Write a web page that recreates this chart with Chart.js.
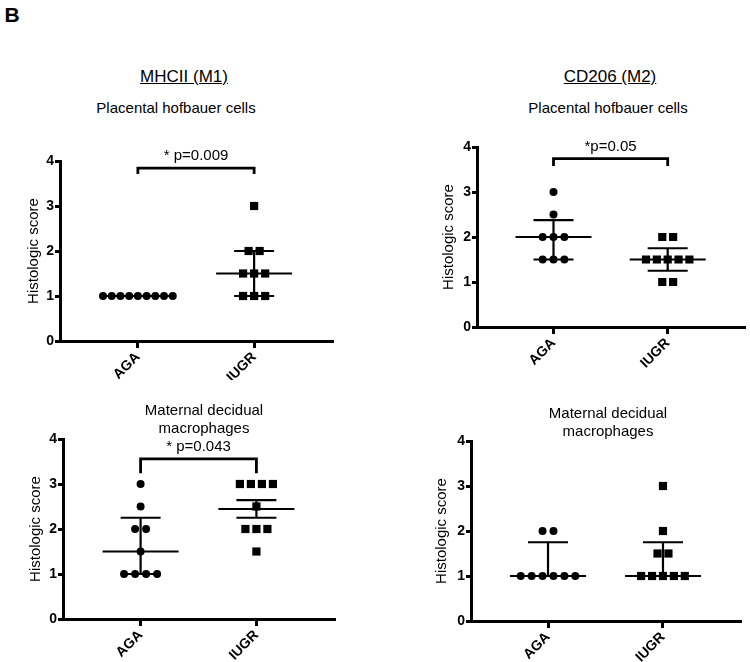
<!DOCTYPE html>
<html><head><meta charset="utf-8">
<script src="https://cdn.jsdelivr.net/npm/chart.js@4.4.1/dist/chart.umd.min.js"></script>
<style>
body{margin:0;background:#fff;width:750px;height:662px;position:relative;overflow:hidden;font-family:"Liberation Sans",Arial,sans-serif;color:#000}
.t{position:absolute;transform:translate(-50%,-50%);white-space:nowrap;text-align:center}
.h{font-size:17px;line-height:20px;text-decoration:underline}
.s{font-size:15px;line-height:18px}
canvas{position:absolute}
</style></head><body>
<canvas id="c1"></canvas><canvas id="c2"></canvas><canvas id="c3"></canvas><canvas id="c4"></canvas>
<div class="t" style="left:12px;top:15px;font-weight:bold;font-size:21px">B</div>
<div class="t h" style="left:184px;top:77px">MHCII (M1)</div>
<div class="t h" style="left:610px;top:77px">CD206 (M2)</div>
<div class="t s" style="left:176px;top:108px">Placental hofbauer cells</div>
<div class="t s" style="left:608px;top:108px">Placental hofbauer cells</div>
<div class="t s" style="left:204px;top:419px">Maternal decidual<br>macrophages</div>
<div class="t s" style="left:608px;top:422px">Maternal decidual<br>macrophages</div>
<script>
// ---- data ----
const groups = ['AGA', 'IUGR'];
const yTicks = [0, 1, 2, 3, 4];
const yTitle = 'Histologic score';

// MHCII (M1) – placental hofbauer cells
const mhcHofAGA  = [1, 1, 1, 1, 1, 1, 1, 1, 1];
const mhcHofIUGR = [3, 2, 2, 1.5, 1.5, 1.5, 1, 1, 1];
const mhcHofCenter = [1, 1.5];
const mhcHofLow    = [1, 1];
const mhcHofHigh   = [1, 2];

// CD206 (M2) – placental hofbauer cells
const cdHofAGA  = [3, 2.5, 2, 2, 2, 1.5, 1.5, 1.5];
const cdHofIUGR = [2, 2, 1.5, 1.5, 1.5, 1.5, 1.5, 1, 1];
const cdHofCenter = [2, 1.5];
const cdHofLow    = [1.5, 1.25];
const cdHofHigh   = [2.375, 1.75];

// MHCII (M1) – maternal decidual macrophages
const mhcDecAGA  = [3, 2.5, 2, 2, 1.5, 1, 1, 1, 1];
const mhcDecIUGR = [3, 3, 3, 3, 2.5, 2, 2, 2, 1.5];
const mhcDecCenter = [1.5, 2.444];
const mhcDecLow    = [1, 2.25];
const mhcDecHigh   = [2.25, 2.64];

// CD206 (M2) – maternal decidual macrophages
const cdDecAGA  = [2, 2, 1, 1, 1, 1, 1, 1];
const cdDecIUGR = [3, 2, 1.5, 1.5, 1, 1, 1, 1, 1];
const cdDecCenter = [1, 1];
const cdDecLow    = [1, 1];
const cdDecHigh   = [1.75, 1.75];

const pLabels = ['* p=0.009', '*p=0.05', '* p=0.043', null];

// ---- layout ----
const FAMILY = '"Liberation Sans", Arial, sans-serif';
const panels = [
  {id:'c1', box:{x:0,y:130,w:360,h:250}, area:{left:60,top:161,right:332,bottom:341}, titleX:34,
   vals:[mhcHofAGA, mhcHofIUGR], c:mhcHofCenter, lo:mhcHofLow, hi:mhcHofHigh, p:pLabels[0], br:{y:3.84, d:3.71}},
  {id:'c2', box:{x:400,y:120,w:350,h:250}, area:{left:477,top:147,right:748,bottom:327}, titleX:449,
   vals:[cdHofAGA, cdHofIUGR], c:cdHofCenter, lo:cdHofLow, hi:cdHofHigh, p:pLabels[1], br:{y:3.74, d:3.58}},
  {id:'c3', box:{x:0,y:410,w:360,h:252}, area:{left:63,top:439,right:334,bottom:619}, titleX:36,
   vals:[mhcDecAGA, mhcDecIUGR], c:mhcDecCenter, lo:mhcDecLow, hi:mhcDecHigh, p:pLabels[2], br:{y:3.56, d:3.24}},
  {id:'c4', box:{x:400,y:410,w:350,h:252}, area:{left:471,top:441,right:740,bottom:621}, titleX:442,
   vals:[cdDecAGA, cdDecIUGR], c:cdDecCenter, lo:cdDecLow, hi:cdDecHigh, p:pLabels[3], br:null}
];

// spread equal values side by side (scatter-dot layout)
function swarm(values, gi) {
  const counts = {}, seen = {};
  values.forEach(v => counts[v] = (counts[v] || 0) + 1);
  return values.map(v => {
    const n = counts[v], k = (seen[v] = (seen[v] || 0) + 1) - 1;
    const step = n > 1 ? Math.min(0.095, 0.6 / (n - 1)) : 0;
    return {x: gi + 1 + (k - (n - 1) / 2) * step, y: v};
  });
}

const summaryPlugin = {
  id: 'summary',
  afterDatasetsDraw(chart) {
    const cfg = chart.options.plugins.summary;
    const {ctx, scales:{x, y}} = chart;
    ctx.save();
    ctx.strokeStyle = '#000';
    ctx.lineWidth = 2.2;
    groups.forEach((g, i) => {
      const px = x.getPixelForValue(i + 1);
      const pc = y.getPixelForValue(cfg.c[i]);
      const pl = y.getPixelForValue(cfg.lo[i]);
      const ph = y.getPixelForValue(cfg.hi[i]);
      ctx.beginPath();
      ctx.moveTo(px - 38, pc); ctx.lineTo(px + 38, pc);
      ctx.moveTo(px, pl); ctx.lineTo(px, ph);
      ctx.moveTo(px - 20, pl); ctx.lineTo(px + 20, pl);
      ctx.moveTo(px - 20, ph); ctx.lineTo(px + 20, ph);
      ctx.stroke();
    });
    if (cfg.br) {
      const x1 = x.getPixelForValue(1), x2 = x.getPixelForValue(2);
      const yb = y.getPixelForValue(cfg.br.y), yd = y.getPixelForValue(cfg.br.d);
      ctx.lineWidth = 2.8;
      ctx.beginPath();
      ctx.moveTo(x1, yd); ctx.lineTo(x1, yb); ctx.lineTo(x2, yb); ctx.lineTo(x2, yd);
      ctx.stroke();
      ctx.fillStyle = '#000';
      ctx.font = '15px ' + FAMILY;
      ctx.textAlign = 'center';
      ctx.textBaseline = 'middle';
      ctx.fillText(cfg.p, (x1 + x2) / 2, yb - 12);
    }
    ctx.restore();
  }
};

panels.forEach(P => {
  const el = document.getElementById(P.id);
  el.width = P.box.w; el.height = P.box.h;
  el.style.left = P.box.x + 'px'; el.style.top = P.box.y + 'px';
  const padLeft = Math.max(0, P.titleX - P.box.x - 9 - 2);
  const yWidth = P.area.left - P.box.x - padLeft;
  const padTop = P.area.top - P.box.y;
  const padRight = P.box.x + P.box.w - P.area.right;
  const xHeight = P.box.y + P.box.h - P.area.bottom;
  new Chart(el, {
    type: 'scatter',
    data: {
      datasets: [
        {label: groups[0], data: swarm(P.vals[0], 0), pointStyle: 'circle', pointRadius: 4, pointHoverRadius: 4,
         backgroundColor: '#000', borderWidth: 0},
        {label: groups[1], data: swarm(P.vals[1], 1), pointStyle: 'rect', pointRadius: 5.8, pointHoverRadius: 5.8,
         backgroundColor: '#000', borderWidth: 0}
      ]
    },
    options: {
      responsive: false, animation: false, devicePixelRatio: 1,
      layout: {padding: {left: padLeft, top: padTop, right: padRight, bottom: 0}},
      plugins: {legend: {display: false}, tooltip: {enabled: false},
        summary: {c: P.c, lo: P.lo, hi: P.hi, p: P.p, br: P.br}},
      scales: {
        x: {type: 'linear', min: 0.33, max: 2.67,
          afterBuildTicks: s => { s.ticks = groups.map((g, i) => ({value: i + 1})); },
          afterFit: s => { s.height = xHeight; },
          ticks: {callback: v => groups[Math.round(v) - 1] || '', minRotation: 45, maxRotation: 45, autoSkip: false,
            font: {family: FAMILY, size: 14, weight: 'bold'}, color: '#000', padding: 1},
          grid: {drawOnChartArea: false, drawTicks: true, tickLength: 7, tickWidth: 3, tickColor: '#000', color: '#000', lineWidth: 3},
          border: {display: true, color: '#000', width: 3}
        },
        y: {min: 0, max: 4,
          afterBuildTicks: s => { s.ticks = yTicks.map(v => ({value: v})); },
          afterFit: s => { s.width = yWidth; },
          ticks: {font: {family: FAMILY, size: 14, weight: 'bold'}, color: '#000', padding: 1},
          grid: {drawOnChartArea: false, drawTicks: true, tickLength: 5, tickWidth: 3, tickColor: '#000', color: '#000', lineWidth: 3},
          border: {display: true, color: '#000', width: 3},
          title: {display: true, text: yTitle, color: '#000', font: {family: FAMILY, size: 15}, padding: {top: 2, bottom: 0}}
        }
      }
    },
    plugins: [summaryPlugin]
  });
});
</script>
</body></html>
